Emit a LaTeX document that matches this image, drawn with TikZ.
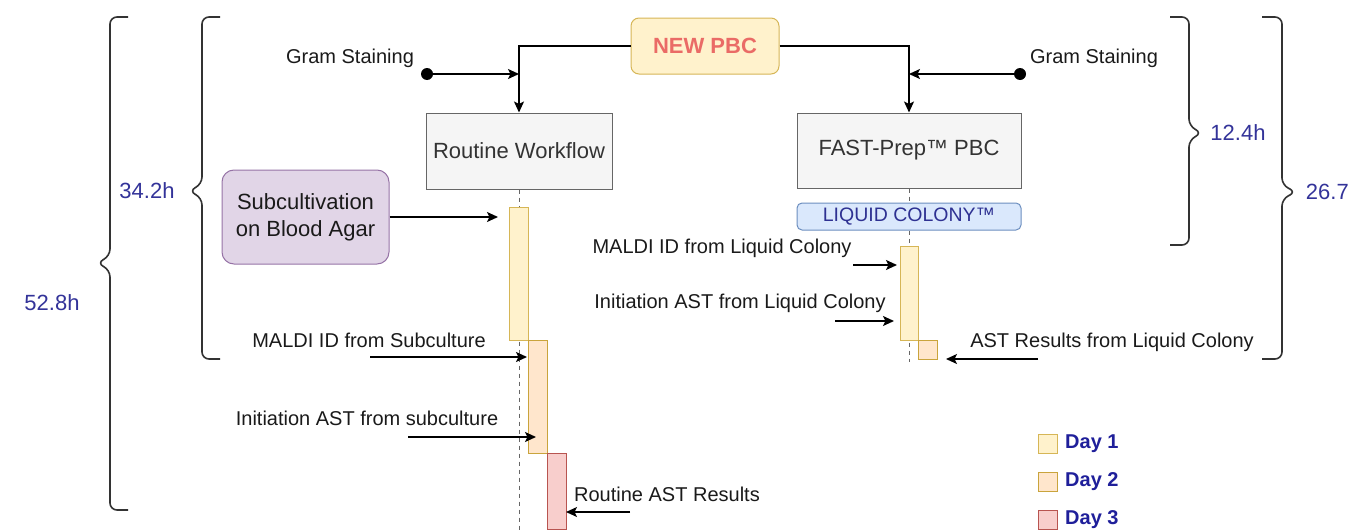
\documentclass[tikz,border=0pt]{standalone}
\usepackage{fontspec}
\setmainfont{Liberation Sans}
\usetikzlibrary{arrows.meta}
\definecolor{dayAfill}{HTML}{FFF2CC}
\definecolor{dayAline}{HTML}{D6B656}
\definecolor{dayBfill}{HTML}{FFE6CC}
\definecolor{dayBline}{HTML}{C9A43C}
\definecolor{dayCfill}{HTML}{F8CECC}
\definecolor{dayCline}{HTML}{B85450}
\definecolor{pbcred}{HTML}{EA6B66}
\definecolor{purfill}{HTML}{E1D5E7}
\definecolor{purline}{HTML}{9673A6}
\definecolor{lcfill}{HTML}{DAE8FC}
\definecolor{lcline}{HTML}{6C8EBF}
\definecolor{lctext}{HTML}{2E3192}
\definecolor{hourtext}{HTML}{333399}
\definecolor{daytext}{HTML}{1F1F9A}
\definecolor{wfline}{HTML}{666666}
\definecolor{wffill}{HTML}{F5F5F5}
\definecolor{txt}{HTML}{1A1A1A}
\begin{document}
\begin{tikzpicture}[x=1pt,y=-1pt,
  lbl/.style={font=\fontsize{20}{24}\selectfont, text=txt, inner sep=0pt},
  hours/.style={font=\fontsize{22}{26}\selectfont, text=hourtext, inner sep=0pt},
  wfbox/.style={draw=wfline, fill=wffill, line width=1pt, text=black!80, font=\fontsize{22}{26}\selectfont, minimum width=186, minimum height=76, inner sep=0pt},
  arr/.style={-{Stealth[length=11pt,width=10pt,inset=2.5pt]}, line width=1.6pt, black},
  life/.style={draw=wfline, line width=0.9pt, dash pattern=on 4pt off 4pt},
  curly/.style={draw=black!80, line width=1.6pt, rounded corners=7pt},
  bar/.style={line width=1pt, inner sep=0pt, anchor=north west},
  dA/.style={bar, fill=dayAfill, draw=dayAline},
  dB/.style={bar, fill=dayBfill, draw=dayBline},
  dC/.style={bar, fill=dayCfill, draw=dayCline},
  dotnode/.style={circle, fill=black, minimum size=12pt, inner sep=0pt},
  legtxt/.style={font=\fontsize{20}{24}\selectfont\bfseries, text=daytext, anchor=west, inner sep=0pt}
]
\useasboundingbox (0,0) rectangle (1350,530);

% braces
\draw[curly] (128,17) -- (110,17) -- (110,256) -- (97,263) -- (110,270) -- (110,510) -- (128,510);
\draw[curly] (220,17) -- (202,17) -- (202,184) -- (189,191) -- (202,198) -- (202,359) -- (220,359);
\draw[curly] (1170,17) -- (1189,17) -- (1189,126) -- (1202,133) -- (1189,140) -- (1189,245) -- (1170,245);
\draw[curly] (1262,17) -- (1282,17) -- (1282,185) -- (1296,192) -- (1282,199) -- (1282,359) -- (1262,359);
\node[hours] (h528) at (52,303) {52.8h};
\node[hours] (h342) at (147,191) {34.2h};
\node[hours] (h124) at (1238,133) {12.4h};
\node[hours, anchor=east] (h267) at (1349,192) {26.7};

% main boxes
\node[draw=dayAline, fill=dayAfill, rounded corners=8pt, line width=1pt, minimum width=148, minimum height=56, inner sep=0pt, text=pbcred, font=\fontsize{22}{26}\selectfont\bfseries] (pbc) at (705,46) {NEW PBC};
\node[wfbox] (rw) at (519,151) {Routine Workflow};
\node[wfbox, minimum width=224, minimum height=75] (fp) at (909,150.5) {FAST-Prep™ PBC};
\node[draw=lcline, fill=lcfill, rounded corners=5pt, line width=1pt, minimum width=224, minimum height=27, inner sep=0pt, text=lctext, font=\fontsize{19.5}{24}\selectfont] (lc) at (909,216.5) {LIQUID COLONY™};
\node[draw=purline, fill=purfill, rounded corners=12pt, line width=1pt, minimum width=167, minimum height=94, inner sep=0pt, align=center, text=txt, font=\fontsize{22}{27}\selectfont] (sub) at (305.5,217) {Subcultivation\\on Blood Agar};

% lifelines
\draw[life] (rw.south) -- (519,530);
\draw[life] (fp.south) -- (lc.north);
\draw[life] (lc.south) -- (909,362);

% bars routine
\node[dA, minimum width=19, minimum height=133] (r1) at (509,207) {};
\node[dB, minimum width=19, minimum height=113] (r2) at (528,340) {};
\node[dC, minimum width=19, minimum height=76] (r3) at (547,453) {};
% bars fast
\node[dA, minimum width=18, minimum height=94] (f1) at (900,246) {};
\node[dB, minimum width=19, minimum height=19] (f2) at (918,340) {};

% top connectors
\draw[arr] (pbc.west) -| (rw.north);
\draw[arr] (pbc.east) -| (fp.north);
\node[dotnode] (gl) at (427,74) {};
\node[dotnode] (gr) at (1020,74) {};
\coordinate (jl) at (519,74);
\coordinate (jr) at (909,74);
\draw[arr] (gl) -- (jl);
\draw[arr] (gr) -- (jr);
\node[lbl] (gsl) at (350,58) {Gram Staining};
\node[lbl] (gsr) at (1094,58) {Gram Staining};

% step labels
\node[lbl] (l1) at (369,340) {MALDI ID from Subculture};
\node[lbl] (l2) at (367,418) {Initiation AST from subculture};
\node[lbl] (l3) at (667,494) {Routine AST Results};
\node[lbl] (l4) at (722,248) {MALDI ID from Liquid Colony};
\node[lbl] (l5) at (740,303) {Initiation AST from Liquid Colony};
\node[lbl] (l6) at (1112,342) {AST Results from Liquid Colony};

% step arrows
\coordinate (t0) at (498,217);
\draw[arr] (sub.east) -- (t0);
\coordinate (s1) at (370,357); \coordinate (t1) at (527,357);
\draw[arr] (s1) -- (t1);
\coordinate (s2) at (408,437); \coordinate (t2) at (536,437);
\draw[arr] (s2) -- (t2);
\coordinate (s3) at (630,512); \coordinate (t3) at (566,512);
\draw[arr] (s3) -- (t3);
\coordinate (s4) at (853,265); \coordinate (t4) at (897,265);
\draw[arr] (s4) -- (t4);
\coordinate (s5) at (835,321); \coordinate (t5) at (894,321);
\draw[arr] (s5) -- (t5);
\coordinate (s6) at (1038,359); \coordinate (t6) at (946,359);
\draw[arr] (s6) -- (t6);

% legend
\node[dA, minimum width=19, minimum height=19] (k1) at (1038,434) {};
\node[dB, minimum width=19, minimum height=19] (k2) at (1038,472) {};
\node[dC, minimum width=19, minimum height=19] (k3) at (1038,510) {};
\node[legtxt] (kt1) at (1065,444) {Day 1};
\node[legtxt] (kt2) at (1065,482) {Day 2};
\node[legtxt] (kt3) at (1065,520) {Day 3};
\end{tikzpicture}
\end{document}
